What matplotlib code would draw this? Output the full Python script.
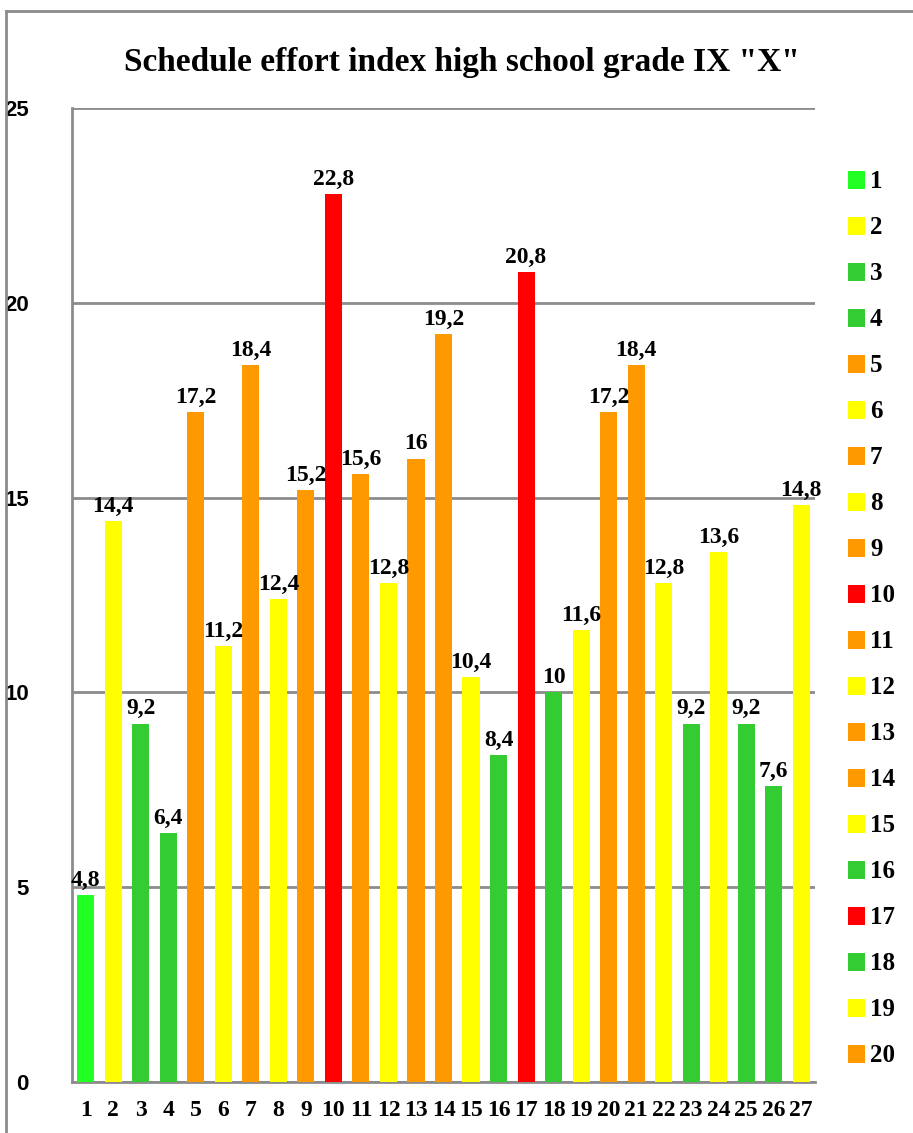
import matplotlib
matplotlib.use("Agg")
import matplotlib.pyplot as plt
from matplotlib.lines import Line2D
from matplotlib.patches import Patch

# effort index per lesson slot
slots = [str(i) for i in range(1, 28)]
values = [4.8, 14.4, 9.2, 6.4, 17.2, 11.2, 18.4, 12.4, 15.2, 22.8, 15.6, 12.8, 16, 19.2,
          10.4, 8.4, 20.8, 10, 11.6, 17.2, 18.4, 12.8, 9.2, 13.6, 9.2, 7.6, 14.8]
levels = ["low", "mid", "ok", "ok", "high", "mid", "high", "mid", "high", "max", "high", "mid",
          "high", "high", "mid", "ok", "max", "ok", "mid", "high", "high", "mid", "ok", "mid",
          "ok", "ok", "mid"]
yticks = [0, 5, 10, 15, 20, 25]

palette = {"low": "#22FF22", "ok": "#33CC33", "mid": "#FFFF00",
           "high": "#FF9900", "max": "#FF0000"}
colors = [palette[l] for l in levels]

serif = ["Liberation Serif", "DejaVu Serif"]
narrow = ["Liberation Sans Narrow", "Liberation Sans", "DejaVu Sans"]
grid_col = "#8c8c8c"

fig = plt.figure(figsize=(9.13, 11.33), dpi=100)
ax = fig.add_axes([72 / 913, 1 - 1082 / 1133, (815 - 72) / 913, (1082 - 108) / 1133])

x = range(len(values))
bars = ax.bar(x, values, width=0.62, color=colors, zorder=3)

for i, v in enumerate(values):
    lbl = f"{v:g}".replace(".", ",")
    ax.annotate(lbl, (i, v), xytext=(0, 3), textcoords="offset points",
                ha="center", va="bottom", fontsize=17, fontweight="bold",
                family=serif, zorder=4)

ax.set_xlim(-0.5, len(values) - 0.5)
ax.set_ylim(0, 25)
ax.set_yticks(yticks)
ax.set_yticklabels([str(t) for t in yticks], family=narrow, fontweight="bold", fontsize=16)
ax.set_xticks(list(x))
ax.set_xticklabels(slots, family=serif, fontweight="bold", fontsize=17)
ax.tick_params(length=0)
ax.tick_params(axis="y", pad=31)
ax.tick_params(axis="x", pad=13)

ax.yaxis.grid(True, color=grid_col, linewidth=2, zorder=0)
for s in ["top", "right"]:
    ax.spines[s].set_visible(False)
for s in ["left", "bottom"]:
    ax.spines[s].set_color(grid_col)
    ax.spines[s].set_linewidth(2)

fig.text(462 / 913, 1 - 62 / 1133, 'Schedule effort index high school grade IX "X"',
         ha="center", va="center", fontsize=24, fontweight="bold", family=serif)

# legend lists the first twenty slots
handles = [Patch(facecolor=colors[i], edgecolor="none") for i in range(20)]
leg = fig.legend(handles, slots[:20], loc="upper left",
                 bbox_to_anchor=(825 / 913, 1 - 148 / 1133), frameon=False,
                 prop={"family": serif, "weight": "bold", "size": 18},
                 handlelength=0.7, handleheight=0.7, handletextpad=0.2,
                 labelspacing=0.92)

# outer chart frame
fig.add_artist(Line2D([6 / 913, 6 / 913], [0, 1 - 11 / 1133], color="#8c8c8c",
                      linewidth=2, transform=fig.transFigure))
fig.add_artist(Line2D([6 / 913, 1], [1 - 11 / 1133, 1 - 11 / 1133], color="#8c8c8c",
                      linewidth=2, transform=fig.transFigure))

fig.savefig("out.png", dpi=100)
